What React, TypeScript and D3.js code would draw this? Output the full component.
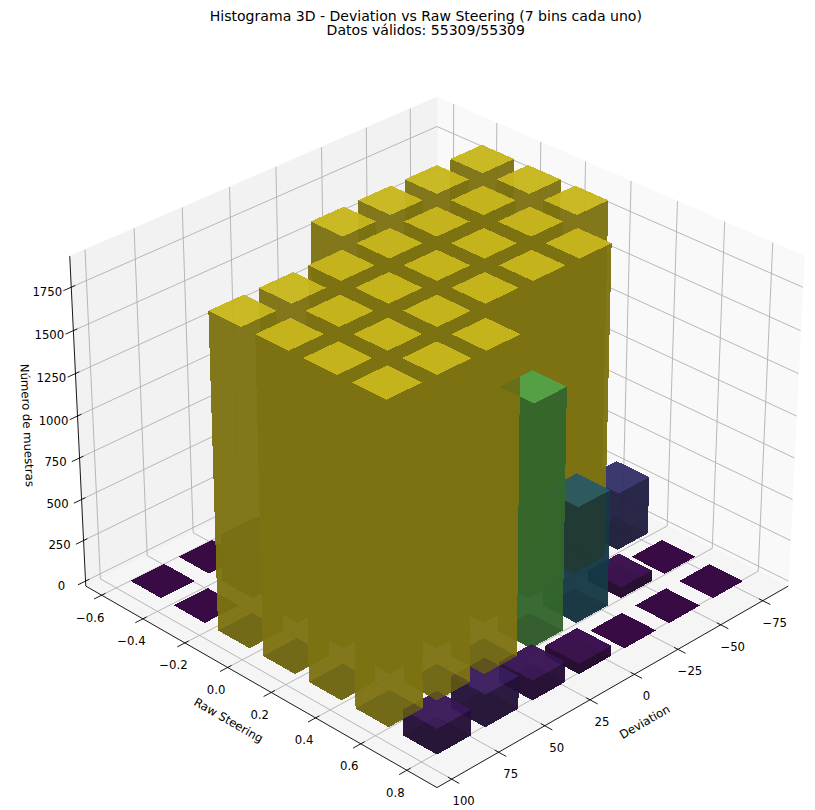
import { useEffect, useRef } from 'react';
import * as d3 from 'd3';

const W = 815;
const H = 810;

const titleLines = [
  'Histograma 3D - Deviation vs Raw Steering (7 bins cada uno)',
  'Datos válidos: 55309/55309',
];

// left edge of each bin
const deviationBins = [-77.6, -51.85, -26.1, -0.35, 25.4, 51.15, 76.9];
const steeringBins = [-0.575, -0.366, -0.157, 0.052, 0.261, 0.47, 0.679];

// one row per deviation bin, one value per raw steering bin
const countsDev0 = [1, 1875, 1875, 1875, 350, 2, 0];
const countsDev1 = [1, 1875, 1875, 1875, 1875, 66, 1];
const countsDev2 = [2, 1875, 1875, 1875, 1875, 700, 2];
const countsDev3 = [2, 1875, 1875, 1875, 1875, 1444, 63];
const countsDev4 = [3, 150, 1875, 1875, 1875, 1875, 120];
const countsDev5 = [2, 285, 1875, 1875, 1875, 1875, 194];
const countsDev6 = [1, 2, 1875, 1875, 1875, 1875, 153];
const counts = [countsDev0, countsDev1, countsDev2, countsDev3, countsDev4, countsDev5, countsDev6];

const deviationTicks = [-75, -50, -25, 0, 25, 50, 75, 100];
const steeringTicks = [-0.6, -0.4, -0.2, 0, 0.2, 0.4, 0.6, 0.8];
const countTicks = [0, 250, 500, 750, 1000, 1250, 1500, 1750];

const barDx = 18;
const barDy = 0.1462;

const xLim: [number, number] = [-90.4, 107.7];
const yLim: [number, number] = [-0.678, 0.929];
const zLim: [number, number] = [-31, 1927];

// box of matplotlib's 3d axes (aspect 4:4:3), elev 30, azim 45, distance 10
const hx = 0.5953;
const hz = 0.4464;
const elev = (30 * Math.PI) / 180;
const azim = (45 * Math.PI) / 180;
const dist = 10;

const qx = d3.scaleLinear().domain(xLim).range([-hx, hx]);
const qy = d3.scaleLinear().domain(yLim).range([-hx, hx]);
const qz = d3.scaleLinear().domain(zLim).range([-hz, hz]);

const n = [Math.cos(elev) * Math.cos(azim), Math.cos(elev) * Math.sin(azim), Math.sin(elev)];
const u = [-Math.sin(azim), Math.cos(azim), 0];
const v = [-Math.sin(elev) * Math.cos(azim), -Math.sin(elev) * Math.sin(azim), Math.cos(elev)];

const screenX = d3.scaleLinear().domain([-0.1, 0.1]).range([437 - 426.5, 437 + 426.5]);
const screenY = d3.scaleLinear().domain([-0.1, 0.1]).range([424.8 + 426.5, 424.8 - 426.5]);

type P3 = [number, number, number];

const depth = (p: P3) => qx(p[0]) * n[0] + qy(p[1]) * n[1] + qz(p[2]) * n[2];

function project(p: P3): [number, number] {
  const a = qx(p[0]);
  const b = qy(p[1]);
  const c = qz(p[2]);
  const w = dist - (a * n[0] + b * n[1] + c * n[2]);
  return [
    screenX((a * u[0] + b * u[1] + c * u[2]) / w),
    screenY((a * v[0] + b * v[1] + c * v[2]) / w),
  ];
}

const path2d = d3.line<P3>().x(d => project(d)[0]).y(d => project(d)[1]);

export default function App() {
  const svgRef = useRef<SVGSVGElement>(null);

  useEffect(() => {
    if (!svgRef.current) return;
    const svg = d3.select(svgRef.current);
    svg.selectAll('*').remove();

    const [x0, x1] = xLim;
    const [y0, y1] = yLim;
    const [z0, z1] = zLim;

    // panes
    const panes: { pts: P3[]; fill: string }[] = [
      { pts: [[x0, y0, z0], [x0, y1, z0], [x0, y1, z1], [x0, y0, z1]], fill: '#f9f9f9' },
      { pts: [[x0, y0, z0], [x1, y0, z0], [x1, y0, z1], [x0, y0, z1]], fill: '#f2f2f2' },
      { pts: [[x0, y0, z0], [x1, y0, z0], [x1, y1, z0], [x0, y1, z0]], fill: '#f5f5f5' },
    ];
    svg.append('g')
      .selectAll('path')
      .data(panes)
      .join('path')
      .attr('d', d => path2d(d.pts) + 'Z')
      .attr('fill', d => d.fill)
      .attr('stroke', d => d.fill)
      .attr('stroke-width', 0.8);

    // grid
    const gridLines: P3[][] = [
      ...deviationTicks.map(t => [[t, y1, z0], [t, y0, z0], [t, y0, z1]] as P3[]),
      ...steeringTicks.map(t => [[x1, t, z0], [x0, t, z0], [x0, t, z1]] as P3[]),
      ...countTicks.map(t => [[x1, y0, t], [x0, y0, t], [x0, y1, t]] as P3[]),
    ];
    svg.append('g')
      .selectAll('path')
      .data(gridLines)
      .join('path')
      .attr('d', d => path2d(d))
      .attr('fill', 'none')
      .attr('stroke', '#b0b0b0')
      .attr('stroke-width', 0.9);

    // axis lines
    const axisLines: P3[][] = [
      [[x1, y1, z0], [x0, y1, z0]],
      [[x1, y0, z0], [x1, y1, z0]],
      [[x1, y0, z0], [x1, y0, z1]],
    ];
    svg.append('g')
      .selectAll('path')
      .data(axisLines)
      .join('path')
      .attr('d', d => path2d(d))
      .attr('fill', 'none')
      .attr('stroke', '#000')
      .attr('stroke-width', 0.9);

    // tick marks, outward and inward along the neighbouring axis
    const outX = 0.024 / (2 * hx) * (x1 - x0);
    const inX = 0.012 / (2 * hx) * (x1 - x0);
    const outY = 0.024 / (2 * hx) * (y1 - y0);
    const inY = 0.012 / (2 * hx) * (y1 - y0);
    const tickMarks: P3[][] = [
      ...deviationTicks.map(t => [[t, y1 + outY, z0], [t, y1 - inY, z0]] as P3[]),
      ...steeringTicks.map(t => [[x1 + outX, t, z0], [x1 - inX, t, z0]] as P3[]),
      ...countTicks.map(t => [[x1 + outX, y0, t], [x1 - inX, y0, t]] as P3[]),
    ];
    svg.append('g')
      .selectAll('path')
      .data(tickMarks)
      .join('path')
      .attr('d', d => path2d(d))
      .attr('fill', 'none')
      .attr('stroke', '#000')
      .attr('stroke-width', 0.9);

    // bars: all six faces, far ones first, like Poly3DCollection
    const colorScale = d3.scaleSequential(d3.interpolateViridis).domain([0, d3.max(counts.flat()) || 1]);
    const shadeOf = (dot: number) => 0.3 + 0.7 * ((dot + 1) / 2);
    const light = { top: 1 / 3, bottom: -1 / 3, back: 2 / 3, front: -2 / 3 };

    type Face = { pts: P3[]; color: string; z: number };
    const faces: Face[] = [];
    counts.forEach((row, i) => {
      row.forEach((c, j) => {
        const a0 = deviationBins[i];
        const a1 = a0 + barDx;
        const b0 = steeringBins[j];
        const b1 = b0 + barDy;
        const base = d3.rgb(colorScale(c));
        const shaded = (dot: number) => {
          const k = shadeOf(dot);
          return d3.rgb(base.r * k, base.g * k, base.b * k).formatRgb();
        };
        const boxFaces: [P3[], number][] = [
          [[[a0, b0, 0], [a1, b0, 0], [a1, b1, 0], [a0, b1, 0]], light.bottom],
          [[[a0, b0, c], [a1, b0, c], [a1, b1, c], [a0, b1, c]], light.top],
          [[[a0, b0, 0], [a1, b0, 0], [a1, b0, c], [a0, b0, c]], light.back],
          [[[a0, b1, 0], [a1, b1, 0], [a1, b1, c], [a0, b1, c]], light.front],
          [[[a0, b0, 0], [a0, b1, 0], [a0, b1, c], [a0, b0, c]], light.back],
          [[[a1, b0, 0], [a1, b1, 0], [a1, b1, c], [a1, b0, c]], light.front],
        ];
        boxFaces.forEach(([pts, dot]) => {
          faces.push({ pts, color: shaded(dot), z: d3.mean(pts, depth) || 0 });
        });
      });
    });
    faces.sort((a, b) => a.z - b.z);

    svg.append('g')
      .attr('shape-rendering', 'crispEdges')
      .selectAll('path')
      .data(faces)
      .join('path')
      .attr('d', d => path2d(d.pts) + 'Z')
      .attr('fill', d => d.color)
      .attr('fill-opacity', 0.8);

    // tick labels
    const text = svg.append('g')
      .attr('font-family', '"DejaVu Sans", sans-serif')
      .attr('font-size', 11.7)
      .attr('fill', '#000');
    const fmt = (t: number, dec: number) => t.toFixed(dec).replace('-', '\u2212');

    deviationTicks.forEach(t => {
      const [px, py] = project([t, y1, z0]);
      text.append('text')
        .attr('x', px + 12).attr('y', py + 22.5)
        .attr('text-anchor', 'middle').attr('dominant-baseline', 'middle')
        .text(fmt(t, 0));
    });
    steeringTicks.forEach(t => {
      const [px, py] = project([x1, t, z0]);
      text.append('text')
        .attr('x', px - 11.5).attr('y', py + 23)
        .attr('text-anchor', 'middle').attr('dominant-baseline', 'middle')
        .text(fmt(t, 1));
    });
    countTicks.forEach(t => {
      const [px, py] = project([x1, y0, t]);
      text.append('text')
        .attr('x', px - 24).attr('y', py + 5)
        .attr('text-anchor', 'middle').attr('dominant-baseline', 'middle')
        .text(String(t));
    });

    // axis labels
    text.append('text')
      .attr('transform', 'translate(645,722.3) rotate(-29.8)')
      .attr('text-anchor', 'middle').attr('dominant-baseline', 'middle')
      .text('Deviation');
    text.append('text')
      .attr('transform', 'translate(228.3,720.7) rotate(29.8)')
      .attr('text-anchor', 'middle').attr('dominant-baseline', 'middle')
      .text('Raw Steering');
    text.append('text')
      .attr('transform', 'translate(26.7,425.3) rotate(87.3)')
      .attr('text-anchor', 'middle').attr('dominant-baseline', 'middle')
      .text('Número de muestras');

    // title
    svg.append('g')
      .attr('font-family', '"DejaVu Sans", sans-serif')
      .attr('font-size', 14.07)
      .attr('text-anchor', 'middle')
      .selectAll('text')
      .data(titleLines)
      .join('text')
      .attr('x', 425.8)
      .attr('y', (d, i) => 20.6 + i * 14.4)
      .text(d => d);
  }, []);

  return (
    <svg
      ref={svgRef}
      width={W}
      height={H}
      viewBox={`0 0 ${W} ${H}`}
      style={{ position: 'absolute', left: 0, top: 0, background: '#fff' }}
    />
  );
}
